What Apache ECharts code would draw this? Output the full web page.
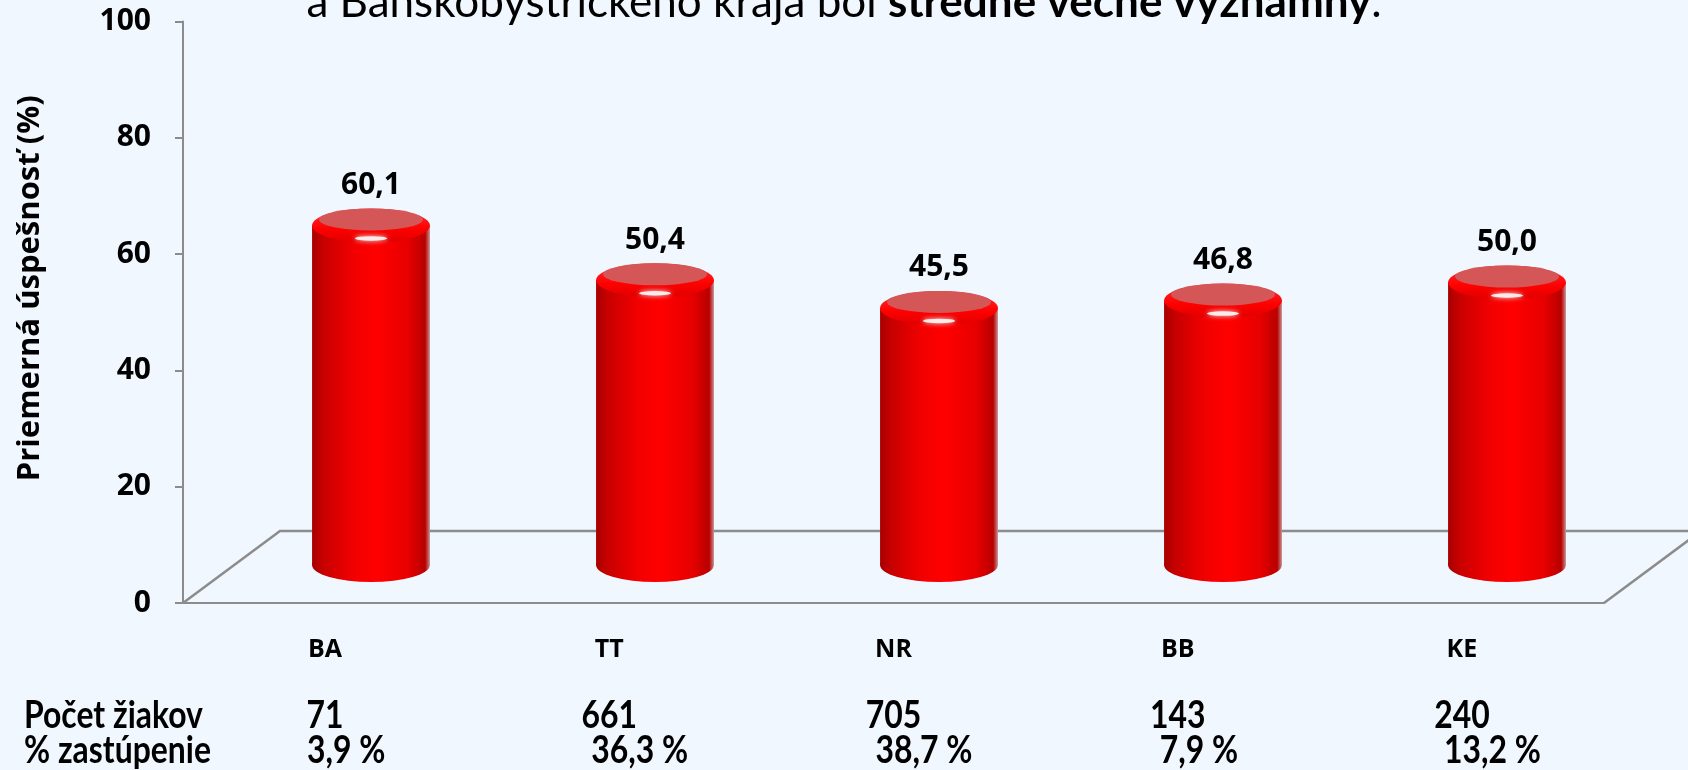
<!DOCTYPE html>
<html>
<head>
<meta charset="utf-8">
<script src="https://cdn.jsdelivr.net/npm/echarts@6/dist/echarts.min.js"></script>
<style>
html, body { margin: 0; padding: 0; background: #F0F7FF; }
#chart { width: 1688px; height: 770px; }
</style>
</head>
<body>
<div id="chart"></div>
<script>
// data
const regions = ['BA', 'TT', 'NR', 'BB', 'KE'];
const success = [60.1, 50.4, 45.5, 46.8, 50.0];
const pupils = [71, 661, 705, 143, 240];
const share = [3.9, 36.3, 38.7, 7.9, 13.2];

const NARROW = "Lato, sans-serif";
const WIDE = "'Open Sans', 'DejaVu Sans', sans-serif";
const AXIS_GREY = '#8C8C8C';
const SQUEEZE = 0.84; // the slide text is a condensed face

// front grid (the visible axes) and the floor depth of the fake 3D box
const front = { left: 183, right: 84, top: 21.5, bottom: 167 };
const depth = { dx: 97, dy: 72 };

const fmt = v => v.toFixed(1).replace('.', ',');

function renderCylinder(params, api) {
    const top = api.coord([api.value(0), api.value(1)]);
    const base = api.coord([api.value(0), 0]);
    const w = api.size([1, 0])[0] * 0.415;
    const rx = w / 2, ry = 17;
    const cx = top[0];
    const body = new echarts.graphic.LinearGradient(0, 0, 1, 0, [
        { offset: 0, color: '#A80000' },
        { offset: 0.1, color: '#C80000' },
        { offset: 0.35, color: '#F20000' },
        { offset: 0.55, color: '#FF0000' },
        { offset: 0.82, color: '#E60000' },
        { offset: 0.96, color: '#B80000' },
        { offset: 1, color: '#C89090' }
    ]);
    const rim = new echarts.graphic.LinearGradient(0, 0, 0, 1, [
        { offset: 0, color: '#FF3030' },
        { offset: 0.6, color: '#FF0000' },
        { offset: 1, color: '#E00000' }
    ]);
    const oval = (y, r, k, style) => ({
        type: 'circle', x: cx, y: y, scaleY: k,
        shape: { cx: 0, cy: 0, r: r }, style: style
    });
    return {
        type: 'group',
        children: [
            oval(base[1], rx, ry / rx, { fill: body }),
            { type: 'rect', shape: { x: cx - rx, y: top[1], width: w, height: base[1] - top[1] }, style: { fill: body } },
            oval(top[1], rx, ry / rx, { fill: rim }),
            oval(top[1] - 6, rx - 7, 11 / (rx - 7), { fill: '#D45656' }),
            oval(top[1] + 13, 16, 0.14, { fill: 'rgba(255,240,240,0.95)', shadowBlur: 5, shadowColor: '#ffffff' }),
            {
                type: 'text', x: cx, y: top[1] - ry - 23,
                style: {
                    text: fmt(api.value(1)), fontFamily: WIDE, fontWeight: 'bold', fontSize: 30,
                    fill: '#000', align: 'center', verticalAlign: 'middle'
                }
            }
        ]
    };
}

// the two table rows under each category, hung off the x axis position
function renderTable(params, api) {
    const p = api.coord([api.value(0), 0]);
    const txt = { fontFamily: NARROW, fontWeight: 'bold', fontSize: 38, fill: '#000', verticalAlign: 'middle' };
    return {
        type: 'group',
        children: [
            { type: 'text', x: p[0], y: p[1] + 113, scaleX: SQUEEZE,
              style: Object.assign({}, txt, { text: String(api.value(1)), align: 'center' }) },
            { type: 'text', x: p[0] - 18, y: p[1] + 148, scaleX: SQUEEZE,
              style: Object.assign({}, txt, { text: fmt(api.value(2)) + ' %', align: 'left' }) }
        ]
    };
}

const chart = echarts.init(document.getElementById('chart'));
const floorY = 770 - front.bottom;
const rightX = 1688 - front.right;

chart.setOption({
    backgroundColor: '#F0F7FF',
    animation: false,
    grid: [
        front,
        { left: 229, right: 39, top: 0, bottom: 205 }
    ],
    xAxis: [
        {
            type: 'category', gridIndex: 0, data: regions,
            axisLine: { lineStyle: { color: AXIS_GREY, width: 2 } },
            axisTick: { show: false },
            axisLabel: { margin: 34, fontFamily: WIDE, fontWeight: 'bold', fontSize: 25, color: '#000' }
        },
        { type: 'category', gridIndex: 1, data: regions, show: false }
    ],
    yAxis: [
        {
            type: 'value', gridIndex: 0, min: 0, max: 100, interval: 20,
            name: 'Priemerná úspešnosť (%)', nameLocation: 'middle', nameGap: 137,
            nameTextStyle: { fontFamily: WIDE, fontWeight: 'bold', fontSize: 31, color: '#000', padding: [0, 0, 0, 48] },
            axisLine: { show: true, lineStyle: { color: AXIS_GREY, width: 2 } },
            axisTick: { show: true, length: 8, lineStyle: { color: AXIS_GREY, width: 2 } },
            axisLabel: { margin: 32, fontFamily: WIDE, fontWeight: 'bold', fontSize: 30, color: '#000' },
            splitLine: { show: false }
        },
        { type: 'value', gridIndex: 1, min: 0, max: 100, show: false }
    ],
    graphic: [
        {
            type: 'polyline', z: 1, silent: true,
            shape: { points: [[front.left, floorY], [front.left + depth.dx, floorY - depth.dy], [1700, floorY - depth.dy]] },
            style: { stroke: AXIS_GREY, lineWidth: 2.5, fill: null }
        },
        {
            type: 'line', z: 1, silent: true,
            shape: { x1: rightX, y1: floorY, x2: rightX + depth.dx, y2: floorY - depth.dy },
            style: { stroke: AXIS_GREY, lineWidth: 2.5 }
        },
        {
            type: 'text', x: 844, y: 3, z: 5,
            style: {
                text: '{n|a Banskobystrického kraja bol }{b|stredne vecne významný}{n|.}',
                align: 'center', verticalAlign: 'middle',
                rich: {
                    n: { fontFamily: NARROW, fontSize: 44, fill: '#000' },
                    b: { fontFamily: NARROW, fontSize: 44, fontWeight: 'bold', fill: '#000' }
                }
            }
        },
        {
            type: 'text', x: 24, y: 716, scaleX: SQUEEZE,
            style: { text: 'Počet žiakov', fontFamily: NARROW, fontWeight: 'bold', fontSize: 38, fill: '#000', verticalAlign: 'middle' }
        },
        {
            type: 'text', x: 24, y: 751, scaleX: SQUEEZE,
            style: { text: '% zastúpenie', fontFamily: NARROW, fontWeight: 'bold', fontSize: 38, fill: '#000', verticalAlign: 'middle' }
        }
    ],
    series: [
        {
            type: 'custom',
            xAxisIndex: 1,
            yAxisIndex: 1,
            renderItem: renderCylinder,
            data: success.map((v, i) => [i, v]),
            z: 3
        },
        {
            type: 'custom',
            xAxisIndex: 0,
            yAxisIndex: 0,
            renderItem: renderTable,
            data: regions.map((r, i) => [i, pupils[i], share[i]]),
            z: 3
        }
    ]
});
</script>
</body>
</html>
